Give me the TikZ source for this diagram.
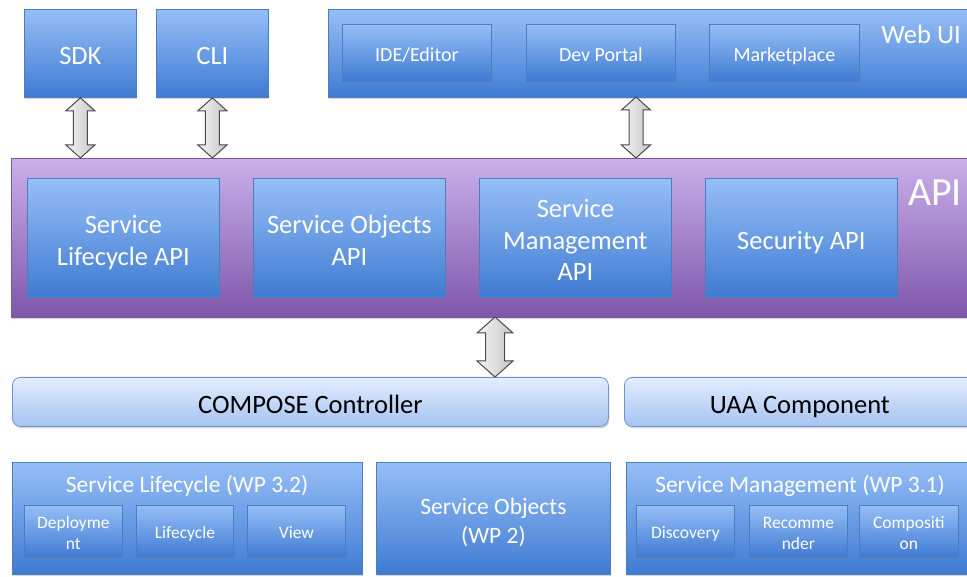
\documentclass[tikz,border=0pt]{standalone}
\usepackage{fontspec}
\setmainfont{Carlito}
\usetikzlibrary{shadows,calc}
\definecolor{btop}{HTML}{96BEF7}
\definecolor{bbot}{HTML}{3F7BD2}
\definecolor{bline}{HTML}{4A7EBF}
\definecolor{ptop}{HTML}{CAB0EA}
\definecolor{pbot}{HTML}{7E56AA}
\definecolor{pline}{HTML}{7A5A9E}
\definecolor{ltop}{HTML}{E3EDFD}
\definecolor{lbot}{HTML}{A6C3F2}
\definecolor{lline}{HTML}{6D94D0}
\definecolor{aline}{HTML}{4A4A4A}
\newcommand{\hs}[1]{\rule{0pt}{#1pt}}
\newcommand{\dblarrow}[5]{%
  \draw[garrow] let \p1=(#1), \p2=(#2) in
   (\x1,\y1) -- (\x1+#3pt,\y1-#5pt) -- (\x1+#4pt,\y1-#5pt) -- (\x1+#4pt,\y2+#5pt)
   -- (\x1+#3pt,\y2+#5pt) -- (\x1,\y2) -- (\x1-#3pt,\y2+#5pt) -- (\x1-#4pt,\y2+#5pt)
   -- (\x1-#4pt,\y1-#5pt) -- (\x1-#3pt,\y1-#5pt) -- cycle;}
\begin{document}
\begin{tikzpicture}[x=1pt,y=-1pt,
  shad/.style={drop shadow={shadow xshift=1pt,shadow yshift=-2pt,opacity=0.3}},
  struts/.style 2 args={execute at begin node={\rule{0pt}{#1pt}},
     execute at end node={\rule[-#2pt]{0pt}{#2pt}}},
  bluebox/.style={shad,draw=bline,line width=0.8pt,top color=btop,bottom color=bbot,
     text=white,anchor=north west,inner sep=0pt,align=center},
  purplebox/.style={shad,draw=pline,line width=0.8pt,top color=ptop,bottom color=pbot,
     anchor=north west,inner sep=0pt},
  lightbox/.style={shad,draw=lline,line width=0.8pt,top color=ltop,bottom color=lbot,
     text=black,anchor=north west,inner sep=0pt,rounded corners=8pt,align=center},
  big/.style={font=\fontsize{26.5}{31.5}\selectfont,struts={28.9}{6.1}},
  mid/.style={font=\fontsize{23.5}{29}\selectfont,struts={25.6}{5.4}},
  small/.style={font=\fontsize{20}{24}\selectfont,struts={21.8}{4.6}},
  tiny/.style={font=\fontsize{17.5}{21}\selectfont,struts={19.1}{4.0}},
  lblbig/.style={font=\fontsize{26.5}{31}\selectfont},
  lblmid/.style={font=\fontsize{23.5}{29}\selectfont},
  lbl/.style={text=white,inner sep=0pt,align=center},
  garrow/.style={draw=aline,line width=1pt,line join=miter,left color=gray!8,right color=gray!45}]
\useasboundingbox (0,0) rectangle (967,577);

% top row
\node[bluebox,big,minimum width=112pt,minimum height=88pt] (sdk) at (24,9) {SDK};
\node[bluebox,big,minimum width=112pt,minimum height=88pt] (cli) at (156,9) {CLI};
\node[bluebox,minimum width=647pt,minimum height=88pt] (webui) at (328,9) {};
\node[lbl,lblbig] (webuilbl) at (921,34) {Web UI};
\node[bluebox,small,minimum width=149pt,minimum height=57pt] (ide) at (342,24) {IDE/Editor};
\node[bluebox,small,minimum width=149pt,minimum height=57pt] (dev) at (526,24) {Dev Portal};
\node[bluebox,small,minimum width=150pt,minimum height=57pt] (market) at (709,24) {Marketplace};

% API layer
\node[purplebox,minimum width=980pt,minimum height=159pt] (api) at (11,158) {};
\node[lbl,font=\fontsize{40}{44}\selectfont] (apilbl) at (935,193) {API};
\node[bluebox,big,minimum width=192pt,minimum height=119pt] (slapi) at (27,178) {\hs{28.9}Service\\Lifecycle API};
\node[bluebox,big,minimum width=192pt,minimum height=119pt] (soapi) at (253,178) {\hs{28.9}Service Objects\\API};
\node[bluebox,big,minimum width=192pt,minimum height=119pt] (smapi) at (479,178) {\hs{28.9}Service\\Management\\API};
\node[bluebox,big,minimum width=192pt,minimum height=119pt] (secapi) at (705,178) {Security API};

% controllers
\node[lightbox,big,minimum width=596pt,minimum height=49pt] (compose) at (12,377) {COMPOSE Controller};
\node[lightbox,big,minimum width=351pt,minimum height=49pt] (uaa) at (624,377) {UAA Component};

% bottom row
\node[bluebox,minimum width=350pt,minimum height=112pt] (sl) at (12,462) {};
\node[lbl,lblmid] (sllbl) at (187,486) {Service Lifecycle (WP 3.2)};
\node[bluebox,mid,minimum width=234pt,minimum height=112pt] (so) at (376,462) {\hs{25.6}Service Objects\\(WP 2)};
\node[bluebox,minimum width=349pt,minimum height=112pt] (sm) at (626,462) {};
\node[lbl,lblmid] (smlbl) at (800,486) {Service Management (WP 3.1)};

\node[bluebox,tiny,minimum width=98pt,minimum height=52pt] (dep) at (24,505) {\hs{19.1}Deployme\\nt};
\node[bluebox,tiny,minimum width=97pt,minimum height=52pt] (life) at (136,505) {Lifecycle};
\node[bluebox,tiny,minimum width=98pt,minimum height=52pt] (view) at (247,505) {View};
\node[bluebox,tiny,minimum width=98pt,minimum height=52pt] (disc) at (636,505) {Discovery};
\node[bluebox,tiny,minimum width=98pt,minimum height=52pt] (rec) at (749,505) {\hs{19.1}Recomme\\nder};
\node[bluebox,tiny,minimum width=99pt,minimum height=52pt] (comp) at (859,505) {\hs{19.1}Compositi\\on};

% arrows
\coordinate (wa) at (636,97);
\dblarrow{sdk.south}{sdk.south |- api.north}{14.5}{7}{13}
\dblarrow{cli.south}{cli.south |- api.north}{14.5}{7}{13}
\dblarrow{wa}{wa |- api.north}{14.5}{7}{13}
\coordinate (ca) at (495,317);
\dblarrow{ca}{ca |- compose.north}{18}{9.5}{16}
\end{tikzpicture}
\end{document}
